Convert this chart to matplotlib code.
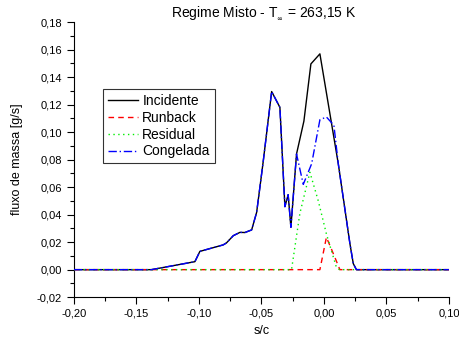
import numpy as np
import matplotlib.pyplot as plt
from matplotlib.ticker import MultipleLocator, FuncFormatter

plt.rcParams['font.family'] = ['Liberation Sans', 'DejaVu Sans']

# Incidente (preto) e Congelada (azul) coincidem ate s/c ~ -0.022
x_comum = [-0.20, -0.138, -0.1032, -0.0992, -0.0806, -0.078, -0.0725, -0.0672,
           -0.0632, -0.0578, -0.0538, -0.0512, -0.0485, -0.0418, -0.0352,
           -0.0312, -0.0286, -0.0264, -0.0219]
y_comum = [0.0, 0.0, 0.0058, 0.0133, 0.018, 0.0194, 0.0247, 0.0271,
           0.027, 0.0289, 0.0417, 0.0599, 0.079, 0.1295, 0.118,
           0.0458, 0.0545, 0.0308, 0.0841]

x_inc_fim = [-0.016, -0.0104, -0.0032, 0.0115, 0.0208, 0.0235, 0.026, 0.10]
y_inc_fim = [0.108, 0.1496, 0.1569, 0.077, 0.019, 0.0044, 0.0, 0.0]

x_cong_fim = [-0.0165, -0.0098, -0.0032, 0.002, 0.008, 0.0115, 0.0208, 0.0235, 0.026, 0.10]
y_cong_fim = [0.062, 0.077, 0.109, 0.111, 0.105, 0.077, 0.019, 0.0044, 0.0, 0.0]

x_runback = [-0.20, -0.0032, 0.002, 0.006, 0.0128, 0.10]
y_runback = [0.0, 0.0, 0.0235, 0.015, 0.0, 0.0]

x_residual = [-0.20, -0.0259, -0.0192, -0.0112, -0.0045, 0.002, 0.010, 0.0125, 0.10]
y_residual = [0.0, 0.0, 0.041, 0.0708, 0.050, 0.026, 0.0017, 0.0, 0.0]

x_inc = x_comum + x_inc_fim
y_inc = y_comum + y_inc_fim
x_cong = x_comum + x_cong_fim
y_cong = y_comum + y_cong_fim

fig = plt.figure(figsize=(4.59, 3.40), dpi=100)
ax = fig.add_axes([0.161, 0.126, 0.817, 0.809])

ax.plot(x_inc, y_inc, color='black', lw=1.0, ls='-', label='Incidente', zorder=3)
ax.plot(x_runback, y_runback, color='red', lw=1.0, ls=(0, (4, 3)), label='Runback', zorder=4)
ax.plot(x_residual, y_residual, color='#00ee00', lw=1.0, ls=(0, (1, 2.5)), label='Residual', zorder=4)
ax.plot(x_cong, y_cong, color='blue', lw=1.0, ls=(0, (6, 2, 1, 2)), label='Congelada', zorder=4)

ax.set_xlim(-0.20, 0.10)
ax.set_ylim(-0.02, 0.18)
ax.xaxis.set_major_locator(MultipleLocator(0.05))
ax.xaxis.set_minor_locator(MultipleLocator(0.025))
ax.yaxis.set_major_locator(MultipleLocator(0.02))
ax.yaxis.set_minor_locator(MultipleLocator(0.01))
virgula = FuncFormatter(lambda v, p: f"{v:.2f}".replace('.', ',').replace('-0,00', '0,00'))
ax.xaxis.set_major_formatter(virgula)
ax.yaxis.set_major_formatter(virgula)
ax.tick_params(which='major', direction='out', length=5, width=0.8, labelsize=8)
ax.tick_params(which='minor', direction='out', length=3, width=0.8)

ax.spines['top'].set_visible(False)
ax.spines['right'].set_visible(False)

ax.set_xlabel('s/c', fontsize=9)
ax.set_ylabel('fluxo de massa [g/s]', fontsize=9, labelpad=10)
ax.set_title(r'Regime Misto - T$_{_\infty}$ = 263,15 K', fontsize=10, x=0.505, pad=2)

leg = ax.legend(loc='upper left', bbox_to_anchor=(0.077, 0.756), fontsize=10,
                frameon=True, fancybox=False, edgecolor='black', handlelength=2.2,
                borderpad=0.35, labelspacing=0.2, handletextpad=0.3, borderaxespad=0)
leg.get_frame().set_linewidth(0.8)

fig.savefig('out.png', dpi=100)
